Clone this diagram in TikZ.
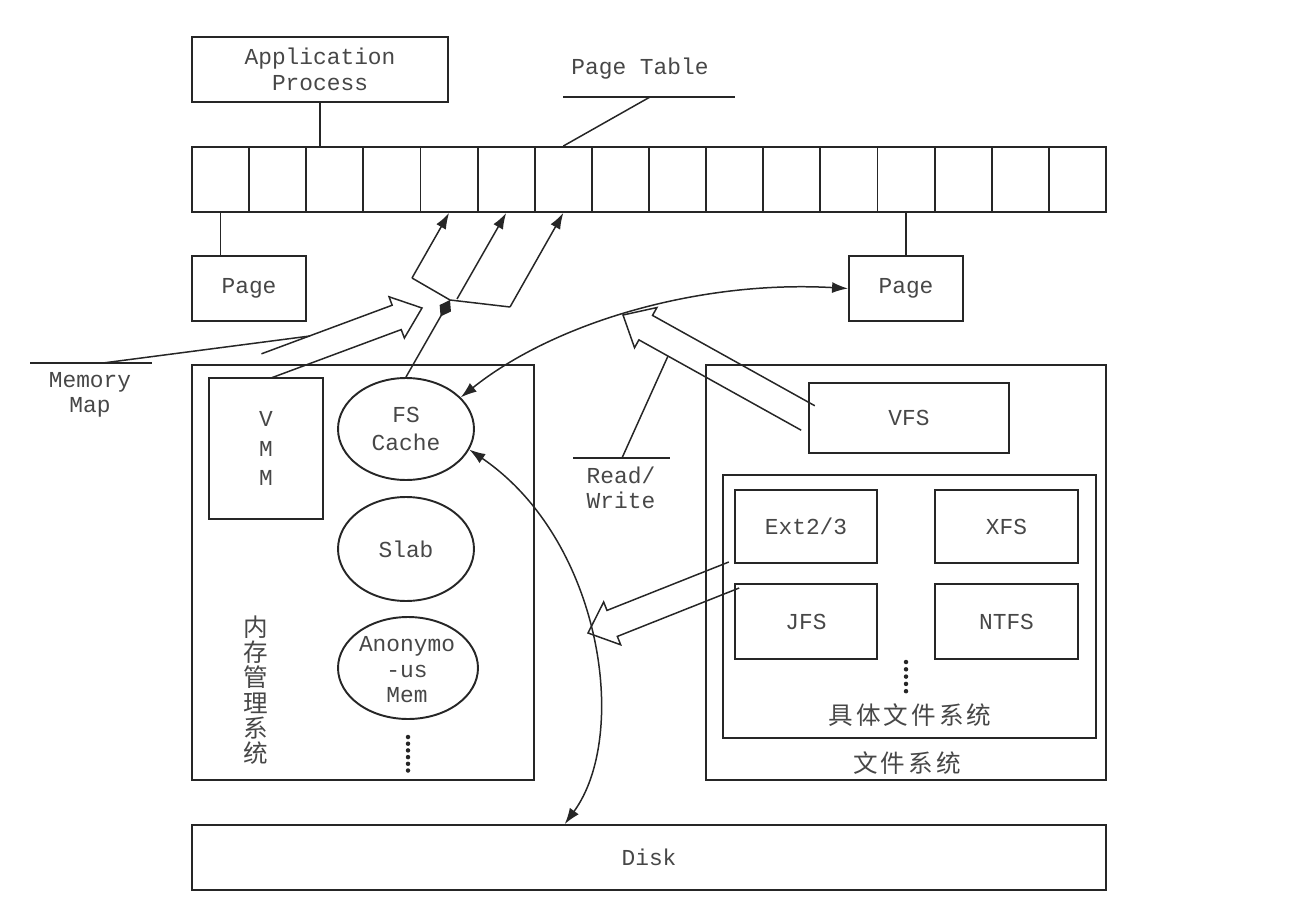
\documentclass[tikz,border=0pt]{standalone}
\usepackage{fontspec}
\usetikzlibrary{arrows.meta,shapes.geometric,calc}
\newfontfamily\latfont{Liberation Mono}
\newfontfamily\cjkfont[LetterSpace=12]{Noto Sans CJK SC}

% open-tailed block arrow: #1 tail, #2 tip, #3 shaft half width, #4 head half width, #5 head length
\newcommand{\hollowarrow}[5]{%
  \coordinate (ha-n) at ($(#2)!#5!(#1)$);
  \draw[conn, line join=miter]
    ($(#1)!#3!90:(#2)$) -- ($(ha-n)!#3!90:(#2)$) -- ($(ha-n)!#4!90:(#2)$) -- (#2)
    -- ($(ha-n)!#4!-90:(#2)$) -- ($(ha-n)!#3!-90:(#2)$) -- ($(#1)!#3!-90:(#2)$);
}

\begin{document}
\begin{tikzpicture}[x=0.02cm,y=-0.02cm,
  every node/.style={font=\latfont\fontsize{13}{14.5}\selectfont, text=black!72},
  box/.style={draw=black!85, line width=1.1pt, rectangle, inner sep=0pt, align=center},
  cell/.style={box, minimum width=1.1425cm, minimum height=1.3cm},
  ell/.style={draw=black!85, line width=1.1pt, ellipse, inner sep=0pt},
  conn/.style={draw=black!85, line width=0.85pt},
  arr/.style={conn, -{Latex[length=0.32cm,width=0.22cm]}},
  both/.style={conn, {Latex[length=0.32cm,width=0.22cm]}-{Latex[length=0.32cm,width=0.22cm]}},
  lbl/.style={align=center, inner sep=0pt},
  cn/.style={font=\cjkfont\fontsize{14}{14.4}\selectfont, align=center, inner sep=0pt}
]
\useasboundingbox (0,0) rectangle (1300,918);

% process and page table
\node[box, minimum width=5.12cm, minimum height=1.3cm] (app) at (320,69.5) {Application\\Process};
\foreach \i in {1,...,16}
  \node[cell] (c\i) at ({192+57.125*(\i-0.5)},179.5) {};
\draw[conn] (app.south) -- (app.south |- c3.north);

\node[lbl] (ptlab) at (640,69) {Page Table};
\coordinate (ptl-a) at (563,97);
\coordinate (ptl-b) at (735,97);
\coordinate (ptl-m) at (650,97);
\draw[conn] (ptl-a) -- (ptl-b);
\draw[conn] (c7.north) -- (ptl-m);

% pages
\node[box, minimum width=2.28cm, minimum height=1.3cm] (pageL) at (249,288.5) {Page};
\node[box, minimum width=2.28cm, minimum height=1.3cm] (pageR) at (906,288.5) {Page};
\draw[conn] (c1.south) -- (c1.south |- pageL.north);
\draw[conn] (c13.south) -- (c13.south |- pageR.north);

% memory management
\node[box, minimum width=6.84cm, minimum height=8.3cm] (mm) at (363,572.5) {};
\node[box, minimum width=2.28cm, minimum height=2.82cm, font=\latfont\fontsize{13}{17}\selectfont] (vmm) at (266,448.5) {V\\M\\M};
\node[ell, minimum width=2.72cm, minimum height=2.04cm] (fscache) at (406,429) {};
\node[lbl, font=\latfont\fontsize{13}{15.8}\selectfont] at (fscache) {FS\\Cache};
\node[ell, minimum width=2.72cm, minimum height=2.08cm] (slab) at (406,549) {};
\node[lbl] at (slab) {Slab};
\node[ell, minimum width=2.8cm, minimum height=2.04cm] (anon) at (408,668) {};
\node[lbl] at (407,670) {Anonymo\\-us\\Mem};
\foreach \k in {0,...,5}
  \fill[black!85] (408,{737+6.7*\k}) circle (0.045cm);
\node[cn] (mmlab) at (256,690) {内\\存\\管\\理\\系\\统};

% file systems
\node[box, minimum width=8cm, minimum height=8.3cm] (fs) at (906,572.5) {};
\node[box, minimum width=4cm, minimum height=1.4cm] (vfs) at (909,418) {VFS};
\node[box, minimum width=7.46cm, minimum height=5.26cm] (cfs) at (909.5,606.5) {};
\node[box, minimum width=2.84cm, minimum height=1.46cm] (ext) at (806,526.5) {Ext2/3};
\node[box, minimum width=2.86cm, minimum height=1.46cm] (xfs) at (1006.5,526.5) {XFS};
\node[box, minimum width=2.84cm, minimum height=1.5cm] (jfs) at (806,621.5) {JFS};
\node[box, minimum width=2.86cm, minimum height=1.5cm] (ntfs) at (1006.5,621.5) {NTFS};
\foreach \k in {0,...,4}
  \fill[black!85] (906,{662+7.3*\k}) circle (0.045cm);
\node[cn] (cfslab) at (910,715) {具体文件系统};
\node[cn] (fslab) at (907,763) {文件系统};

% disk
\node[box, minimum width=18.28cm, minimum height=1.3cm] (disk) at (649,857.5) {Disk};

% mapping of pages into the page table
\coordinate (jn) at (450,300);
\coordinate (b1) at (412,278);
\coordinate (b2) at (457,299);
\coordinate (b3) at (510,307);
\draw[conn] (b1) -- (jn) -- (b3);
\draw[arr] (b1) -- (c5.south);
\draw[arr] (b2) -- (c6.south);
\draw[arr] (b3) -- (c7.south);
\draw[conn, -{Diamond[length=0.38cm,width=0.26cm]}] (fscache.north) -- (jn);

% memory map
\coordinate (mmT) at (266,366);
\coordinate (mmP) at (422,308);
\hollowarrow{mmT}{mmP}{0.26cm}{0.44cm}{0.54cm}
\node[lbl] (memlab) at (90,395) {Memory\\Map};
\coordinate (mml-a) at (30,363);
\coordinate (mml-b) at (152,363);
\coordinate (mml-m) at (103,363);
\coordinate (mml-e) at (310,336);
\draw[conn] (mml-a) -- (mml-b);
\draw[conn] (mml-m) -- (mml-e);

% cache traffic
\coordinate (dtop) at ($(disk.north west)!0.408!(disk.north east)$);
\draw[both] (fscache.30) .. controls (555,322) and (700,280) .. (pageR.west);
\draw[both] (fscache.-18) .. controls (602,540) and (630,735) .. (dtop);

% read / write
\coordinate (rwT) at (808,418);
\coordinate (rwP) at (623,315);
\hollowarrow{rwT}{rwP}{0.28cm}{0.46cm}{0.52cm}
\node[lbl] (rwlab) at (621,488) {Read/\\Write};
\coordinate (rwl-a) at (573,458);
\coordinate (rwl-b) at (670,458);
\coordinate (rwl-m) at (622,458);
\coordinate (rwl-e) at (668,356);
\draw[conn] (rwl-a) -- (rwl-b);
\draw[conn] (rwl-m) -- (rwl-e);

% concrete file systems to the cache
\coordinate (fsT) at (734,575);
\coordinate (fsP) at (588,633);
\hollowarrow{fsT}{fsP}{0.28cm}{0.46cm}{0.52cm}
\end{tikzpicture}
\end{document}
